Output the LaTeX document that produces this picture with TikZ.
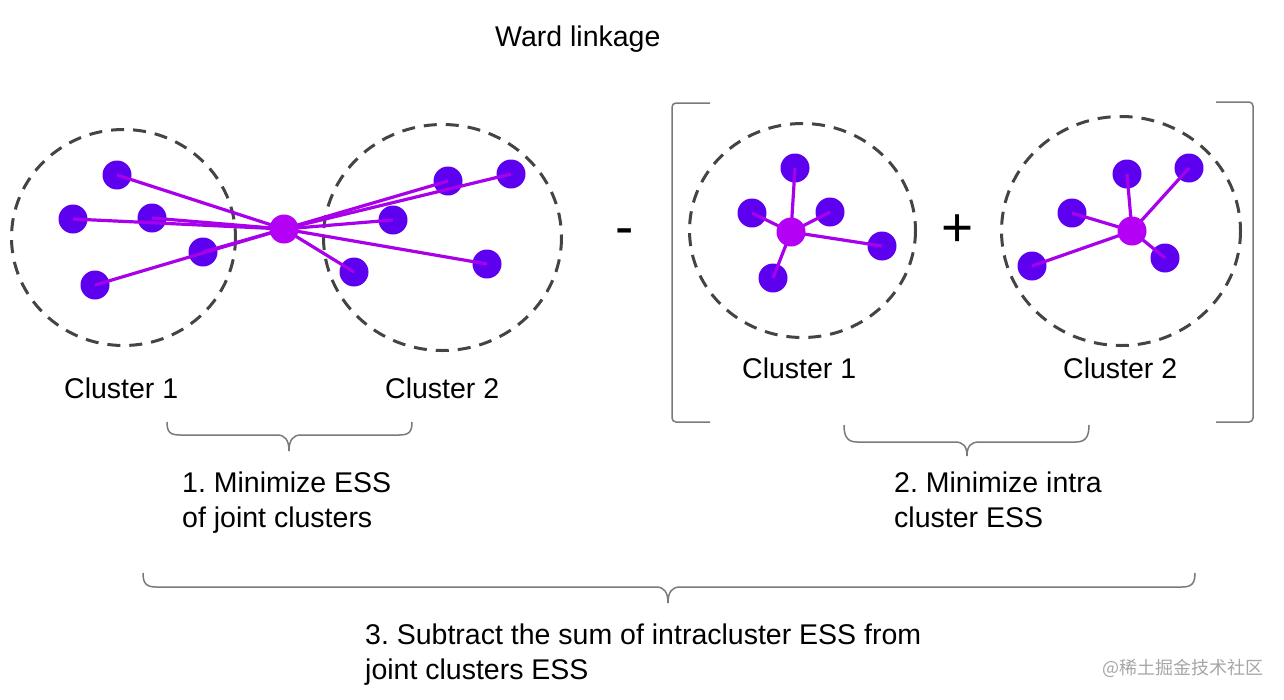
\documentclass[tikz,border=0pt]{standalone}
\usepackage{fontspec}
\setmainfont{Liberation Sans}
\newfontfamily\cjkfont{Noto Sans CJK SC}
\frenchspacing
\definecolor{ptcol}{HTML}{5E00F0}
\definecolor{cencol}{HTML}{B400F5}
\definecolor{lncol}{HTML}{A800EA}
\definecolor{dashcol}{HTML}{444444}
\definecolor{bracecol}{HTML}{7A7A7A}
\begin{document}
\begin{tikzpicture}[x=1pt,y=-1pt,
  pt/.style={circle,fill=ptcol,draw=none,minimum size=29pt,inner sep=0pt},
  cen/.style={circle,fill=cencol,draw=none,minimum size=29pt,inner sep=0pt},
  link/.style={draw=lncol,line width=3.2pt},
  dashring/.style={draw=dashcol,line width=3pt,dash pattern=on 13pt off 9pt},
  bracestyle/.style={draw=bracecol,line width=1.5pt},
  lbl/.style={font=\fontsize{28.5}{34}\selectfont,inner sep=0pt,anchor=base west,text=black},
  op/.style={font=\fontsize{55}{60}\selectfont,inner sep=0pt,anchor=base,text=black}]
\useasboundingbox (0,0) rectangle (1284,699);

% title
\node[lbl] (title) at (495,46) {Ward linkage};

% dashed rings
\draw[dashring] (123.5,237.5) ellipse [x radius=112, y radius=108];
\draw[dashring] (442.5,237.5) ellipse [x radius=119, y radius=113];
\draw[dashring] (802.5,230.5) ellipse [x radius=113, y radius=107];
\draw[dashring] (1121,231) ellipse [x radius=119.5, y radius=114.5];

% ---- joint clusters ----
\node[pt] (a1) at (117,175) {};
\node[pt] (a2) at (73,219) {};
\node[pt] (a3) at (152,218) {};
\node[pt] (a4) at (203,252) {};
\node[pt] (a5) at (95,285) {};
\node[pt] (b1) at (448,181) {};
\node[pt] (b2) at (511,174) {};
\node[pt] (b3) at (393,220) {};
\node[pt] (b4) at (354,272) {};
\node[pt] (b5) at (487,264) {};
\coordinate (ma) at (284,229);
\foreach \p in {a1,a2,a3,a4,a5,b1,b2,b3,b4,b5}
  \draw[link] (ma) -- (\p.center);
\node[cen] (mA) at (ma) {};

% ---- right cluster 1 ----
\node[pt] (c1) at (795,168) {};
\node[pt] (c2) at (752,213) {};
\node[pt] (c3) at (830,212) {};
\node[pt] (c4) at (882,246) {};
\node[pt] (c5) at (773,278) {};
\coordinate (mc) at (791,232);
\foreach \p in {c1,c2,c3,c4,c5}
  \draw[link] (mc) -- (\p.center);
\node[cen] (mC) at (mc) {};

% ---- right cluster 2 ----
\node[pt] (d1) at (1127,174) {};
\node[pt] (d2) at (1189,168) {};
\node[pt] (d3) at (1072,213) {};
\node[pt] (d4) at (1032,266) {};
\node[pt] (d5) at (1165,258) {};
\coordinate (md) at (1132,231);
\foreach \p in {d1,d2,d3,d4,d5}
  \draw[link] (md) -- (\p.center);
\node[cen] (mD) at (md) {};

% operators
\node[op] (minus) at (625,245) {-};
\node[op] (plus) at (958,246) {+};

% square brackets
\draw[bracestyle,rounded corners=4pt] (710,103) -- (672,103) -- (672,422) -- (710,422);
\draw[bracestyle,rounded corners=4pt] (1216,102) -- (1253,102) -- (1253,422) -- (1216,422);

% cluster labels
\node[lbl] (l1) at (64,398) {Cluster 1};
\node[lbl] (l2) at (385,398) {Cluster 2};
\node[lbl] (r1) at (742,378) {Cluster 1};
\node[lbl] (r2) at (1063,378) {Cluster 2};

% braces
\draw[bracestyle] (167,422) .. controls (167,432) and (170,435) .. (180,435)
  -- (277,435) .. controls (285,435) and (289,440) .. (289,451)
  .. controls (289,440) and (293,435) .. (301,435)
  -- (399,435) .. controls (409,435) and (412,432) .. (412,422);
\draw[bracestyle] (844,425) .. controls (844,436) and (847,442) .. (857,442)
  -- (955,442) .. controls (963,442) and (967,446) .. (967,456)
  .. controls (967,446) and (971,442) .. (979,442)
  -- (1076,442) .. controls (1086,442) and (1089,436) .. (1089,425);
\draw[bracestyle] (143,573) .. controls (143,583) and (146,587) .. (156,587)
  -- (656,587) .. controls (664,587) and (668,592) .. (668,603)
  .. controls (668,592) and (672,587) .. (680,587)
  -- (1182,587) .. controls (1192,587) and (1195,583) .. (1195,573);

% step texts
\node[lbl] (s1a) at (182,492) {1. Minimize ESS};
\node[lbl] (s1b) at (182,527) {of joint clusters};
\node[lbl] (s2a) at (894,492) {2. Minimize intra};
\node[lbl] (s2b) at (894,527) {cluster ESS};
\node[lbl] (s3a) at (365,644) {3. Subtract the sum of intracluster ESS from};
\node[lbl] (s3b) at (365,679) {joint clusters ESS};

% watermark
\node[inner sep=0pt,anchor=base east,text=black!35,font=\cjkfont\fontsize{18}{20}\selectfont] (wm) at (1264,674) {@稀土掘金技术社区};
\end{tikzpicture}
\end{document}
